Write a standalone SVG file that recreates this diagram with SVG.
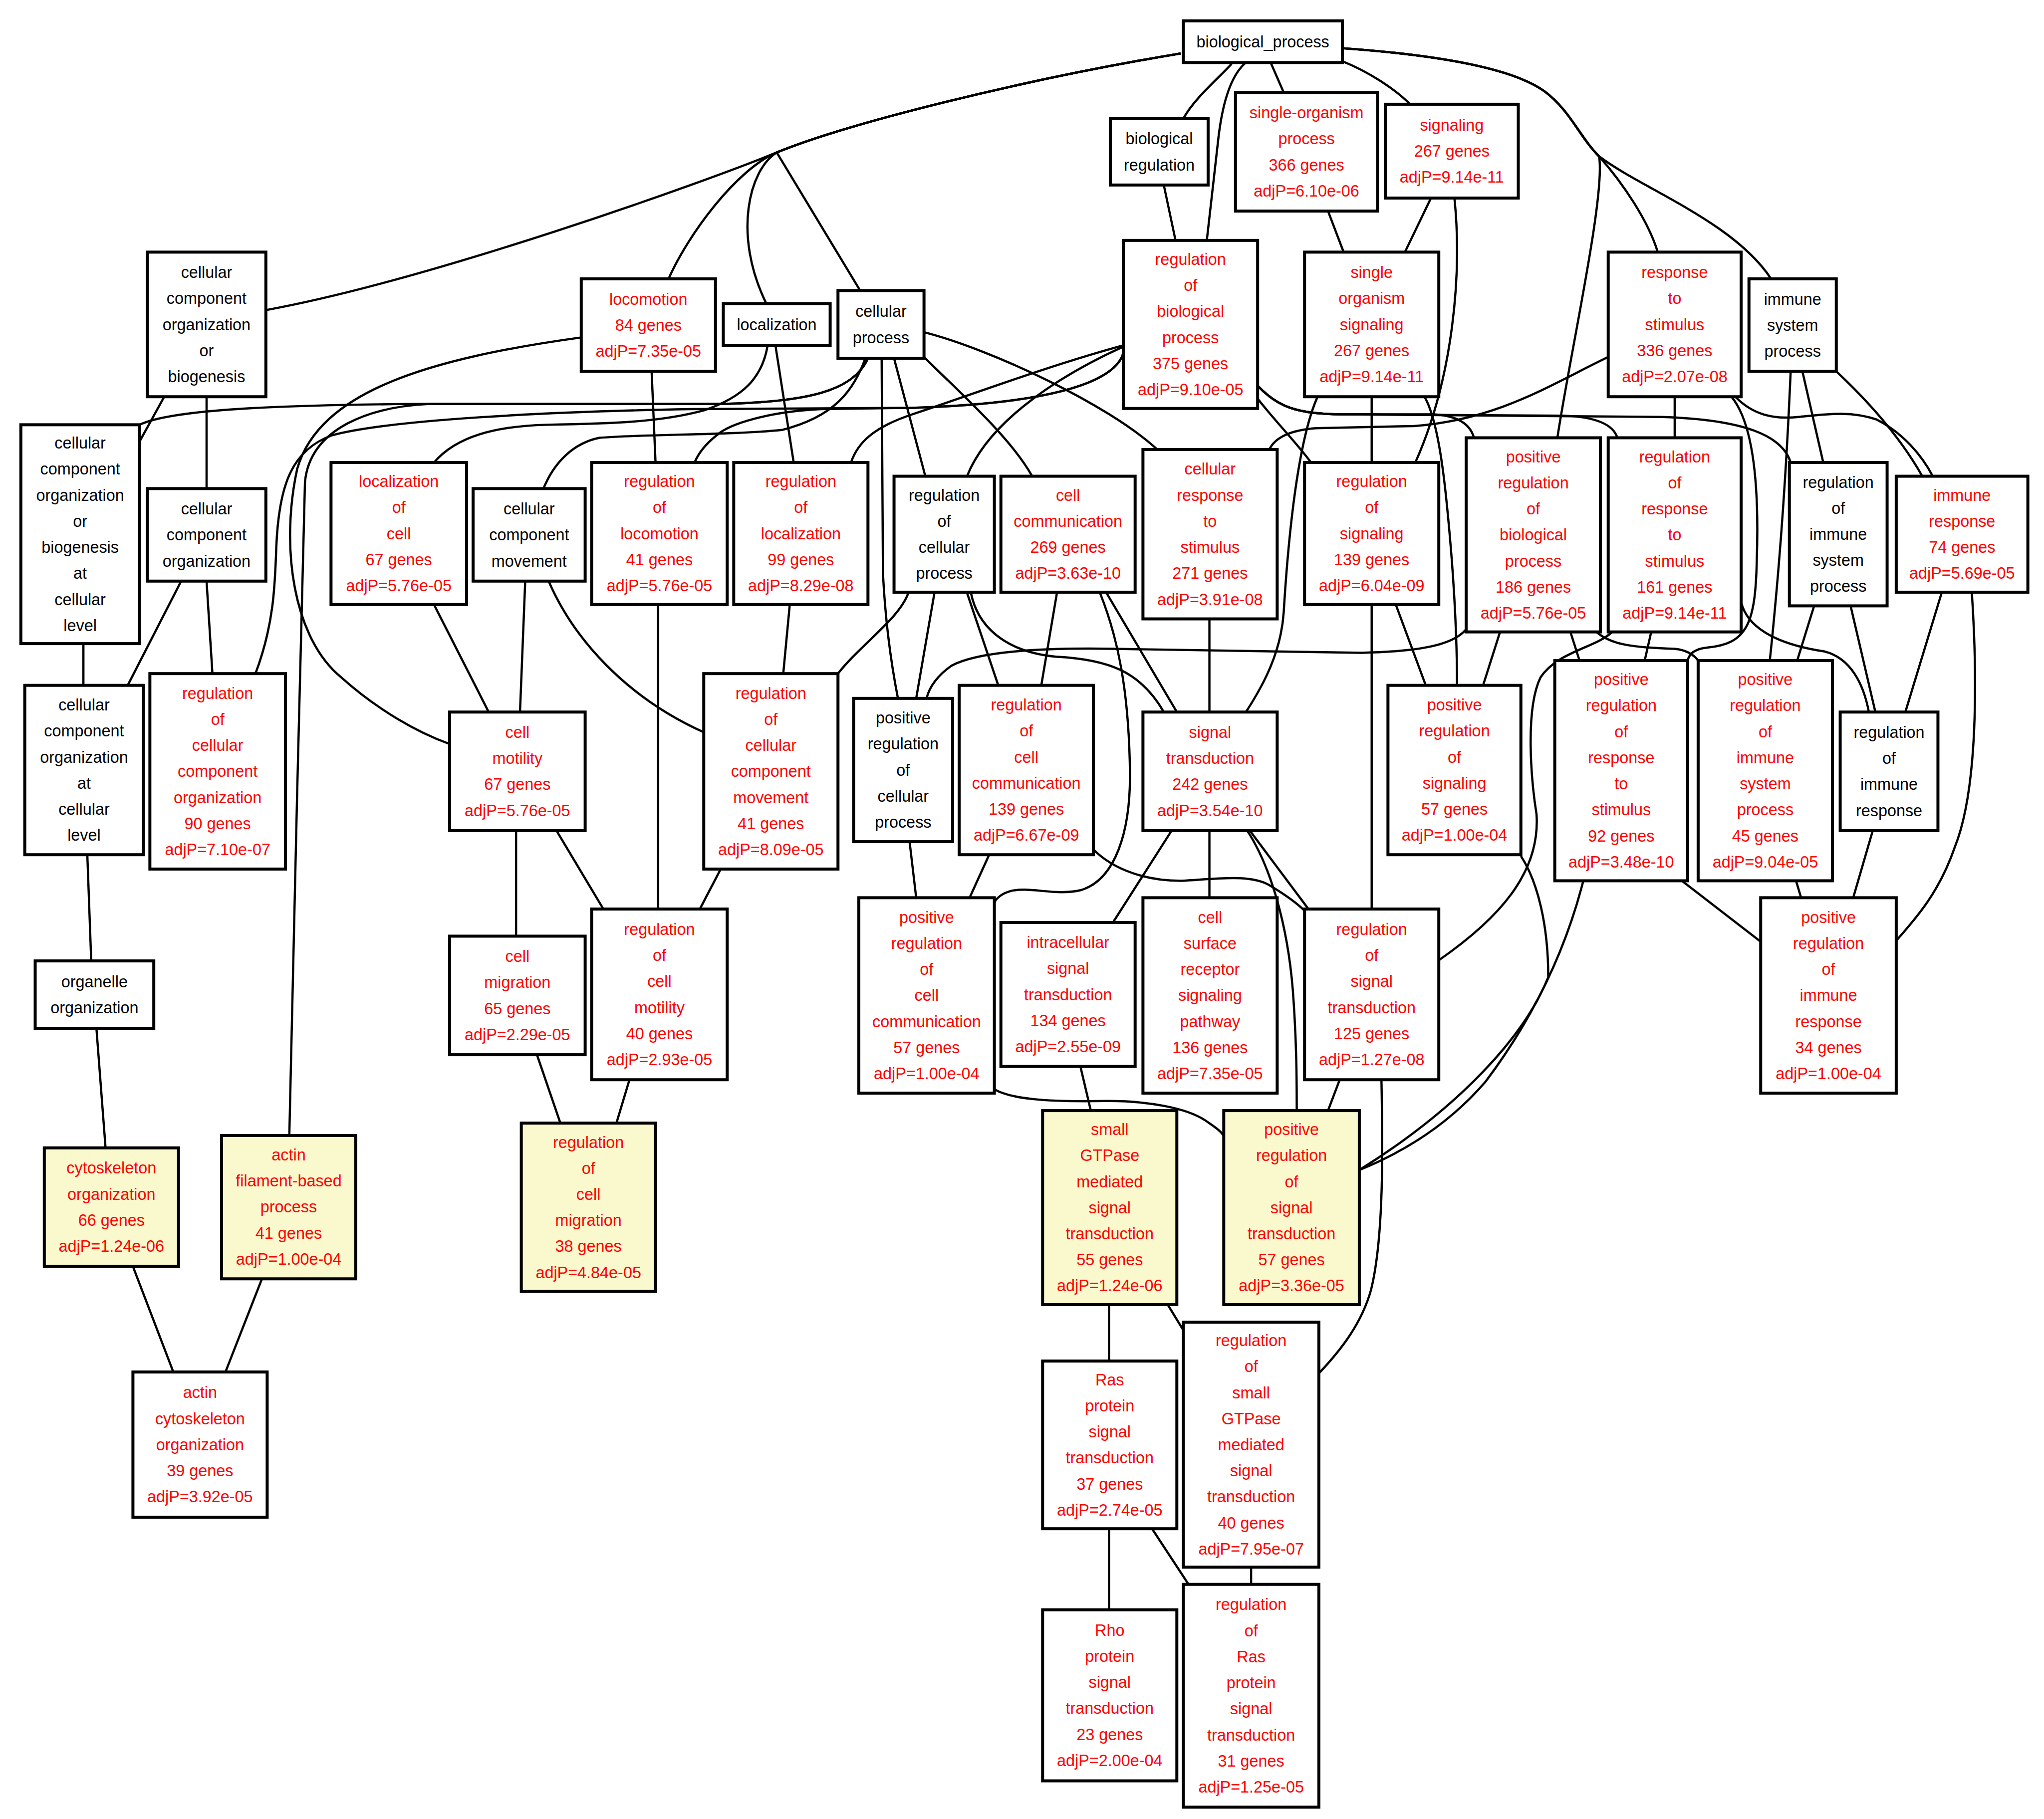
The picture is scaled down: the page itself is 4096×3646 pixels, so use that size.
<svg xmlns="http://www.w3.org/2000/svg" width="4096" height="3646" viewBox="0 0 4096 3646">
<style>
rect{fill:#ffffff;stroke:#000000;stroke-width:2.3}
rect.y{fill:#faf8cd}
text{font-family:"Liberation Sans",Arial,sans-serif;font-size:12.4px;text-anchor:middle}
.r{fill:#ff0000}
.k{fill:#000000}
#edges path{fill:none;stroke:#000000;stroke-width:1.7}
</style>
<rect x="0" y="0" width="4096" height="3646" style="fill:#ffffff;stroke:none"/>
<g transform="scale(2.6116)">
<g id="edges">
<path d="M906,41 C780,62 650,95 596,117 C540,140 330,215 204,238"/>
<path d="M906,41 C780,62 650,95 596,117 C565,130 528,180 513,214"/>
<path d="M906,41 C780,62 650,95 596,117 C575,130 562,180 588,233"/>
<path d="M906,41 C780,62 650,95 596,117 L660,223"/>
<path d="M945,49 C935,60 916,76 908,91"/>
<path d="M956,48 C944,58 938,80 935,105 L926,184.5"/>
<path d="M975,48 L985,71"/>
<path d="M1030,47 C1050,55 1070,68 1082,80"/>
<path d="M1030,37 C1100,42 1160,52 1185,70 C1205,85 1212,105 1227,120 C1232,150 1205,270 1195,336"/>
<path d="M1030,37 C1100,42 1160,52 1185,70 C1205,85 1212,105 1227,120 C1245,140 1265,170 1272,193.5"/>
<path d="M1030,37 C1100,42 1160,52 1185,70 C1205,85 1212,105 1227,120 C1260,145 1330,170 1359,214"/>
<path d="M893,142 L902,184.5"/>
<path d="M1019,162 L1031,193.5"/>
<path d="M1098,152 L1078,193.5"/>
<path d="M1116,152 C1122,210 1115,290 1086,355"/>
<path d="M126,304.5 L107,339"/>
<path d="M158.5,304.5 L158.5,375"/>
<path d="M666,275 C655,300 620,309 550,310 L320,310 C200,311 130,315 107,326"/>
<path d="M666,275 C655,300 620,309 550,310 L330,310 C285,312 238,328 234,370 C231,500 224,750 222,871.5"/>
<path d="M446,259 C330,275 245,300 228,360 C215,420 225,490 262,520 C290,545 320,562 345,571"/>
<path d="M862,271 C855,295 800,310 700,313 L530,314 C420,316 300,322 255,334 C225,345 214,370 212,420 C211,450 210,480 196,517"/>
<path d="M862,271 C855,295 800,310 700,313 L630,314 C590,316 560,325 550,334 C540,342 535,350 533,355"/>
<path d="M862,265 C800,282 740,305 700,318 C670,328 658,340 653,355"/>
<path d="M862,266 C820,285 760,320 742,365.5"/>
<path d="M664,275 C655,300 640,320 600,330 C560,334 500,333 460,336 C440,340 425,355 417,375"/>
<path d="M589,265 C585,290 570,305 540,315 C510,323 480,325 420,326 C380,327 350,335 333,355"/>
<path d="M595,265 L609,355"/>
<path d="M500,285 L503,355"/>
<path d="M676.5,275 L677.5,440 Q680,490 689,536"/>
<path d="M686,275 L710,365.5"/>
<path d="M709,274 C735,300 775,335 792,365.5"/>
<path d="M709,255 C760,268 850,310 888,345"/>
<path d="M965,306 C980,325 995,340 1006,355"/>
<path d="M965,296 C980,312 995,318 1030,318 L1100,318 C1118,319 1128,325 1131,336"/>
<path d="M965,296 C980,312 995,318 1030,318 L1200,319 C1225,320 1238,326 1241,336"/>
<path d="M965,296 C980,312 995,318 1030,318 L1275,320 C1340,322 1368,335 1374,355"/>
<path d="M1234,274 C1190,295 1150,322 1085,327 L1010,328.6 C990,330 978,336 974,345"/>
<path d="M1285,304.5 L1285,336"/>
<path d="M1329,305 C1345,325 1350,370 1348,430 C1347,480 1340,494 1310,497 C1300,498 1296,502 1295,507"/>
<path d="M1332,305 C1345,318 1360,322 1380,320 C1400,318 1420,315 1440,322 C1460,332 1475,350 1483,365.5"/>
<path d="M1383,285 L1399,355"/>
<path d="M1374,285 C1370,380 1364,450 1358,507"/>
<path d="M1409,285 C1425,300 1455,330 1475,365.5"/>
<path d="M1052.5,304.5 L1052.5,355"/>
<path d="M1011,304.5 C995,340 988,420 985,470 C983,500 970,525 956,546.5"/>
<path d="M1093,304.5 C1105,325 1110,380 1114,430 C1117,470 1118,500 1118,526"/>
<path d="M1071,464 L1094,526"/>
<path d="M1052.5,464 L1052.5,697.7"/>
<path d="M1151,485 L1138,526"/>
<path d="M1125,483 C1115,495 1090,500 1045,501 L856,498 C800,497 750,500 730,511 C720,518 713,527 711,536"/>
<path d="M1205,485 L1212,507"/>
<path d="M1225,485 C1235,494 1250,497 1285,498 C1295,499 1300,503 1303,507"/>
<path d="M1267,485 L1262,507"/>
<path d="M1237,485 C1225,497 1195,500 1182,520 C1170,545 1175,600 1179,625 C1182,670 1150,705 1104,737"/>
<path d="M1336,462 C1340,480 1360,494 1400,500 C1420,505 1430,525 1434,546.5"/>
<path d="M1392,465 L1379,507"/>
<path d="M1420,465 L1439,546.5"/>
<path d="M1490,454.5 L1462,546.5"/>
<path d="M1513,454.5 C1516,500 1520,600 1500,650 C1488,685 1470,705 1455,722"/>
<path d="M1437,637.5 L1422,689"/>
<path d="M1378,675.6 L1382,689"/>
<path d="M1290,675.6 L1351,722.7"/>
<path d="M1215,675.6 C1205,715 1185,770 1140,830 C1110,865 1075,885 1043,898"/>
<path d="M1167,657 C1180,677 1188,710 1188,750 C1170,795 1120,850 1043,898"/>
<path d="M606,464 L601,517"/>
<path d="M697,455 C690,475 660,495 643,517"/>
<path d="M717,455 L703,536"/>
<path d="M742,455 L766,526"/>
<path d="M745,455 C750,480 770,500 810,504 C850,506 875,515 893,546.5"/>
<path d="M811,455 L799,526"/>
<path d="M844,455 C858,490 866,530 867,590 C868,640 855,675 830,683 C810,688 790,680 775,684 C768,686 764,690 763,693"/>
<path d="M849,455 L903,546.5"/>
<path d="M928,475 L928,546.5"/>
<path d="M759,656 L744,689"/>
<path d="M839,652 C855,668 880,676 906,676 C930,675 960,670 975,680 C985,686 995,693 1001,699"/>
<path d="M698,646.5 L703,689"/>
<path d="M899,637.5 L854,708"/>
<path d="M928,637.5 L928,689"/>
<path d="M959,637.5 L1004,697.7"/>
<path d="M957,637.5 C975,665 988,710 992,760 C995,800 995,830 995,852.4"/>
<path d="M763,836 C775,843 800,846 850,845 C880,845 910,850 925,860 C932,865 937,868 939,872"/>
<path d="M829,818.5 L837,852.4"/>
<path d="M1028,828.6 L1019,852.4"/>
<path d="M1060,828.6 C1061,880 1062,950 1052,990 C1045,1015 1030,1035 1012,1054"/>
<path d="M851,1001.3 L851,1044.6"/>
<path d="M896,1001.3 L908,1021"/>
<path d="M851,1173.3 L851,1235.5"/>
<path d="M884,1173.3 L912,1216"/>
<path d="M960,1202.8 L960,1216"/>
<path d="M64,494 L64,526"/>
<path d="M139,446 L98,526"/>
<path d="M158.5,446 L163,517"/>
<path d="M333,464 L375,546.5"/>
<path d="M403,446 L399,546.5"/>
<path d="M421,446 C440,490 480,535 540,562"/>
<path d="M505,464 L505,697.7"/>
<path d="M396,637.5 L396,718.5"/>
<path d="M427,637.5 L463,697.7"/>
<path d="M553,667 L537,697.7"/>
<path d="M483,828.7 L473,862"/>
<path d="M412,809.5 L430,862"/>
<path d="M67,656 L70,737.5"/>
<path d="M74,789.3 L81,881"/>
<path d="M102,972 L133,1053"/>
<path d="M201,981.5 L173,1053"/>
</g>
<g id="n_bp"><rect x="908" y="16" width="122" height="32"/><text class="k" x="969" y="36.3">biological_process</text></g>
<g id="n_breg"><rect x="852" y="91" width="75" height="51"/><text class="k" x="889.5" y="110.8"><tspan x="889.5">biological</tspan><tspan x="889.5" dy="20">regulation</tspan></text></g>
<g id="n_sop"><rect x="948" y="71" width="109" height="91"/><text class="r" x="1002.5" y="90.8"><tspan x="1002.5">single-organism</tspan><tspan x="1002.5" dy="20">process</tspan><tspan x="1002.5" dy="20">366 genes</tspan><tspan x="1002.5" dy="20">adjP=6.10e-06</tspan></text></g>
<g id="n_sig"><rect x="1063" y="80" width="102" height="72"/><text class="r" x="1114" y="100.3"><tspan x="1114">signaling</tspan><tspan x="1114" dy="20">267 genes</tspan><tspan x="1114" dy="20">adjP=9.14e-11</tspan></text></g>
<g id="n_ccob"><rect x="113" y="193.5" width="91" height="111"/><text class="k" x="158.5" y="213.3"><tspan x="158.5">cellular</tspan><tspan x="158.5" dy="20">component</tspan><tspan x="158.5" dy="20">organization</tspan><tspan x="158.5" dy="20">or</tspan><tspan x="158.5" dy="20">biogenesis</tspan></text></g>
<g id="n_loco"><rect x="446" y="214" width="103" height="71"/><text class="r" x="497.5" y="233.8"><tspan x="497.5">locomotion</tspan><tspan x="497.5" dy="20">84 genes</tspan><tspan x="497.5" dy="20">adjP=7.35e-05</tspan></text></g>
<g id="n_loc"><rect x="555" y="233" width="82" height="32"/><text class="k" x="596" y="253.3">localization</text></g>
<g id="n_cp"><rect x="643" y="223" width="66" height="52"/><text class="k" x="676" y="243.3"><tspan x="676">cellular</tspan><tspan x="676" dy="20">process</tspan></text></g>
<g id="n_rbp"><rect x="862" y="184.5" width="103" height="129"/><text class="r" x="913.5" y="203.3"><tspan x="913.5">regulation</tspan><tspan x="913.5" dy="20">of</tspan><tspan x="913.5" dy="20">biological</tspan><tspan x="913.5" dy="20">process</tspan><tspan x="913.5" dy="20">375 genes</tspan><tspan x="913.5" dy="20">adjP=9.10e-05</tspan></text></g>
<g id="n_sos"><rect x="1001" y="193.5" width="103" height="111"/><text class="r" x="1052.5" y="213.3"><tspan x="1052.5">single</tspan><tspan x="1052.5" dy="20">organism</tspan><tspan x="1052.5" dy="20">signaling</tspan><tspan x="1052.5" dy="20">267 genes</tspan><tspan x="1052.5" dy="20">adjP=9.14e-11</tspan></text></g>
<g id="n_rs"><rect x="1234" y="193.5" width="102" height="111"/><text class="r" x="1285" y="213.3"><tspan x="1285">response</tspan><tspan x="1285" dy="20">to</tspan><tspan x="1285" dy="20">stimulus</tspan><tspan x="1285" dy="20">336 genes</tspan><tspan x="1285" dy="20">adjP=2.07e-08</tspan></text></g>
<g id="n_isp"><rect x="1342" y="214" width="67" height="71"/><text class="k" x="1375.5" y="233.8"><tspan x="1375.5">immune</tspan><tspan x="1375.5" dy="20">system</tspan><tspan x="1375.5" dy="20">process</tspan></text></g>
<g id="n_ccobc"><rect x="16" y="326" width="91" height="168"/><text class="k" x="61.5" y="344.3"><tspan x="61.5">cellular</tspan><tspan x="61.5" dy="20">component</tspan><tspan x="61.5" dy="20">organization</tspan><tspan x="61.5" dy="20">or</tspan><tspan x="61.5" dy="20">biogenesis</tspan><tspan x="61.5" dy="20">at</tspan><tspan x="61.5" dy="20">cellular</tspan><tspan x="61.5" dy="20">level</tspan></text></g>
<g id="n_cco"><rect x="113" y="375" width="91" height="71"/><text class="k" x="158.5" y="394.8"><tspan x="158.5">cellular</tspan><tspan x="158.5" dy="20">component</tspan><tspan x="158.5" dy="20">organization</tspan></text></g>
<g id="n_locc"><rect x="254" y="355" width="104" height="109"/><text class="r" x="306" y="373.8"><tspan x="306">localization</tspan><tspan x="306" dy="20">of</tspan><tspan x="306" dy="20">cell</tspan><tspan x="306" dy="20">67 genes</tspan><tspan x="306" dy="20">adjP=5.76e-05</tspan></text></g>
<g id="n_ccm"><rect x="363" y="375" width="86" height="71"/><text class="k" x="406" y="394.8"><tspan x="406">cellular</tspan><tspan x="406" dy="20">component</tspan><tspan x="406" dy="20">movement</tspan></text></g>
<g id="n_rloco"><rect x="454" y="355" width="104" height="109"/><text class="r" x="506" y="373.8"><tspan x="506">regulation</tspan><tspan x="506" dy="20">of</tspan><tspan x="506" dy="20">locomotion</tspan><tspan x="506" dy="20">41 genes</tspan><tspan x="506" dy="20">adjP=5.76e-05</tspan></text></g>
<g id="n_rloc"><rect x="563" y="355" width="103" height="109"/><text class="r" x="614.5" y="373.8"><tspan x="614.5">regulation</tspan><tspan x="614.5" dy="20">of</tspan><tspan x="614.5" dy="20">localization</tspan><tspan x="614.5" dy="20">99 genes</tspan><tspan x="614.5" dy="20">adjP=8.29e-08</tspan></text></g>
<g id="n_rcp"><rect x="686" y="365.5" width="77" height="89"/><text class="k" x="724.5" y="384.3"><tspan x="724.5">regulation</tspan><tspan x="724.5" dy="20">of</tspan><tspan x="724.5" dy="20">cellular</tspan><tspan x="724.5" dy="20">process</tspan></text></g>
<g id="n_cc"><rect x="768" y="365.5" width="103" height="89"/><text class="r" x="819.5" y="384.3"><tspan x="819.5">cell</tspan><tspan x="819.5" dy="20">communication</tspan><tspan x="819.5" dy="20">269 genes</tspan><tspan x="819.5" dy="20">adjP=3.63e-10</tspan></text></g>
<g id="n_crs"><rect x="877" y="345" width="103" height="130"/><text class="r" x="928.5" y="364.3"><tspan x="928.5">cellular</tspan><tspan x="928.5" dy="20">response</tspan><tspan x="928.5" dy="20">to</tspan><tspan x="928.5" dy="20">stimulus</tspan><tspan x="928.5" dy="20">271 genes</tspan><tspan x="928.5" dy="20">adjP=3.91e-08</tspan></text></g>
<g id="n_rsig"><rect x="1001" y="355" width="103" height="109"/><text class="r" x="1052.5" y="373.8"><tspan x="1052.5">regulation</tspan><tspan x="1052.5" dy="20">of</tspan><tspan x="1052.5" dy="20">signaling</tspan><tspan x="1052.5" dy="20">139 genes</tspan><tspan x="1052.5" dy="20">adjP=6.04e-09</tspan></text></g>
<g id="n_prbp"><rect x="1125" y="336" width="103" height="149"/><text class="r" x="1176.5" y="354.8"><tspan x="1176.5">positive</tspan><tspan x="1176.5" dy="20">regulation</tspan><tspan x="1176.5" dy="20">of</tspan><tspan x="1176.5" dy="20">biological</tspan><tspan x="1176.5" dy="20">process</tspan><tspan x="1176.5" dy="20">186 genes</tspan><tspan x="1176.5" dy="20">adjP=5.76e-05</tspan></text></g>
<g id="n_rrs"><rect x="1234" y="336" width="102" height="149"/><text class="r" x="1285" y="354.8"><tspan x="1285">regulation</tspan><tspan x="1285" dy="20">of</tspan><tspan x="1285" dy="20">response</tspan><tspan x="1285" dy="20">to</tspan><tspan x="1285" dy="20">stimulus</tspan><tspan x="1285" dy="20">161 genes</tspan><tspan x="1285" dy="20">adjP=9.14e-11</tspan></text></g>
<g id="n_risp"><rect x="1373" y="355" width="75" height="110"/><text class="k" x="1410.5" y="374.3"><tspan x="1410.5">regulation</tspan><tspan x="1410.5" dy="20">of</tspan><tspan x="1410.5" dy="20">immune</tspan><tspan x="1410.5" dy="20">system</tspan><tspan x="1410.5" dy="20">process</tspan></text></g>
<g id="n_ir"><rect x="1455" y="365.5" width="101" height="89"/><text class="r" x="1505.5" y="384.3"><tspan x="1505.5">immune</tspan><tspan x="1505.5" dy="20">response</tspan><tspan x="1505.5" dy="20">74 genes</tspan><tspan x="1505.5" dy="20">adjP=5.69e-05</tspan></text></g>
<g id="n_ccoc"><rect x="19" y="526" width="91" height="130"/><text class="k" x="64.5" y="545.3"><tspan x="64.5">cellular</tspan><tspan x="64.5" dy="20">component</tspan><tspan x="64.5" dy="20">organization</tspan><tspan x="64.5" dy="20">at</tspan><tspan x="64.5" dy="20">cellular</tspan><tspan x="64.5" dy="20">level</tspan></text></g>
<g id="n_rcco"><rect x="115" y="517" width="104" height="150"/><text class="r" x="167" y="536.3"><tspan x="167">regulation</tspan><tspan x="167" dy="20">of</tspan><tspan x="167" dy="20">cellular</tspan><tspan x="167" dy="20">component</tspan><tspan x="167" dy="20">organization</tspan><tspan x="167" dy="20">90 genes</tspan><tspan x="167" dy="20">adjP=7.10e-07</tspan></text></g>
<g id="n_cm"><rect x="345" y="546.5" width="104" height="91"/><text class="r" x="397" y="566.3"><tspan x="397">cell</tspan><tspan x="397" dy="20">motility</tspan><tspan x="397" dy="20">67 genes</tspan><tspan x="397" dy="20">adjP=5.76e-05</tspan></text></g>
<g id="n_rccm"><rect x="540" y="517" width="103" height="150"/><text class="r" x="591.5" y="536.3"><tspan x="591.5">regulation</tspan><tspan x="591.5" dy="20">of</tspan><tspan x="591.5" dy="20">cellular</tspan><tspan x="591.5" dy="20">component</tspan><tspan x="591.5" dy="20">movement</tspan><tspan x="591.5" dy="20">41 genes</tspan><tspan x="591.5" dy="20">adjP=8.09e-05</tspan></text></g>
<g id="n_prcp"><rect x="655" y="536" width="76" height="110"/><text class="k" x="693" y="555.3"><tspan x="693">positive</tspan><tspan x="693" dy="20">regulation</tspan><tspan x="693" dy="20">of</tspan><tspan x="693" dy="20">cellular</tspan><tspan x="693" dy="20">process</tspan></text></g>
<g id="n_rcc"><rect x="736" y="526" width="103" height="130"/><text class="r" x="787.5" y="545.3"><tspan x="787.5">regulation</tspan><tspan x="787.5" dy="20">of</tspan><tspan x="787.5" dy="20">cell</tspan><tspan x="787.5" dy="20">communication</tspan><tspan x="787.5" dy="20">139 genes</tspan><tspan x="787.5" dy="20">adjP=6.67e-09</tspan></text></g>
<g id="n_st"><rect x="877" y="546.5" width="103" height="91"/><text class="r" x="928.5" y="566.3"><tspan x="928.5">signal</tspan><tspan x="928.5" dy="20">transduction</tspan><tspan x="928.5" dy="20">242 genes</tspan><tspan x="928.5" dy="20">adjP=3.54e-10</tspan></text></g>
<g id="n_prs"><rect x="1065" y="526" width="102" height="130"/><text class="r" x="1116" y="545.3"><tspan x="1116">positive</tspan><tspan x="1116" dy="20">regulation</tspan><tspan x="1116" dy="20">of</tspan><tspan x="1116" dy="20">signaling</tspan><tspan x="1116" dy="20">57 genes</tspan><tspan x="1116" dy="20">adjP=1.00e-04</tspan></text></g>
<g id="n_prrs"><rect x="1193" y="507" width="102" height="169"/><text class="r" x="1244" y="525.8"><tspan x="1244">positive</tspan><tspan x="1244" dy="20">regulation</tspan><tspan x="1244" dy="20">of</tspan><tspan x="1244" dy="20">response</tspan><tspan x="1244" dy="20">to</tspan><tspan x="1244" dy="20">stimulus</tspan><tspan x="1244" dy="20">92 genes</tspan><tspan x="1244" dy="20">adjP=3.48e-10</tspan></text></g>
<g id="n_prisp"><rect x="1303" y="507" width="103" height="169"/><text class="r" x="1354.5" y="525.8"><tspan x="1354.5">positive</tspan><tspan x="1354.5" dy="20">regulation</tspan><tspan x="1354.5" dy="20">of</tspan><tspan x="1354.5" dy="20">immune</tspan><tspan x="1354.5" dy="20">system</tspan><tspan x="1354.5" dy="20">process</tspan><tspan x="1354.5" dy="20">45 genes</tspan><tspan x="1354.5" dy="20">adjP=9.04e-05</tspan></text></g>
<g id="n_rir"><rect x="1412" y="546.5" width="75" height="91"/><text class="k" x="1449.5" y="566.3"><tspan x="1449.5">regulation</tspan><tspan x="1449.5" dy="20">of</tspan><tspan x="1449.5" dy="20">immune</tspan><tspan x="1449.5" dy="20">response</tspan></text></g>
<g id="n_oo"><rect x="27" y="737.5" width="91" height="52"/><text class="k" x="72.5" y="757.8"><tspan x="72.5">organelle</tspan><tspan x="72.5" dy="20">organization</tspan></text></g>
<g id="n_cmig"><rect x="345" y="718.5" width="104" height="91"/><text class="r" x="397" y="738.3"><tspan x="397">cell</tspan><tspan x="397" dy="20">migration</tspan><tspan x="397" dy="20">65 genes</tspan><tspan x="397" dy="20">adjP=2.29e-05</tspan></text></g>
<g id="n_rcm"><rect x="454" y="697.7" width="104" height="131"/><text class="r" x="506" y="717.5"><tspan x="506">regulation</tspan><tspan x="506" dy="20">of</tspan><tspan x="506" dy="20">cell</tspan><tspan x="506" dy="20">motility</tspan><tspan x="506" dy="20">40 genes</tspan><tspan x="506" dy="20">adjP=2.93e-05</tspan></text></g>
<g id="n_prcc"><rect x="659" y="689" width="104" height="150"/><text class="r" x="711" y="708.3"><tspan x="711">positive</tspan><tspan x="711" dy="20">regulation</tspan><tspan x="711" dy="20">of</tspan><tspan x="711" dy="20">cell</tspan><tspan x="711" dy="20">communication</tspan><tspan x="711" dy="20">57 genes</tspan><tspan x="711" dy="20">adjP=1.00e-04</tspan></text></g>
<g id="n_ist"><rect x="768" y="708" width="103" height="110.5"/><text class="r" x="819.5" y="727.55"><tspan x="819.5">intracellular</tspan><tspan x="819.5" dy="20">signal</tspan><tspan x="819.5" dy="20">transduction</tspan><tspan x="819.5" dy="20">134 genes</tspan><tspan x="819.5" dy="20">adjP=2.55e-09</tspan></text></g>
<g id="n_csr"><rect x="877" y="689" width="103" height="150"/><text class="r" x="928.5" y="708.3"><tspan x="928.5">cell</tspan><tspan x="928.5" dy="20">surface</tspan><tspan x="928.5" dy="20">receptor</tspan><tspan x="928.5" dy="20">signaling</tspan><tspan x="928.5" dy="20">pathway</tspan><tspan x="928.5" dy="20">136 genes</tspan><tspan x="928.5" dy="20">adjP=7.35e-05</tspan></text></g>
<g id="n_rst"><rect x="1001" y="697.7" width="103" height="131"/><text class="r" x="1052.5" y="717.5"><tspan x="1052.5">regulation</tspan><tspan x="1052.5" dy="20">of</tspan><tspan x="1052.5" dy="20">signal</tspan><tspan x="1052.5" dy="20">transduction</tspan><tspan x="1052.5" dy="20">125 genes</tspan><tspan x="1052.5" dy="20">adjP=1.27e-08</tspan></text></g>
<g id="n_prir"><rect x="1351" y="689" width="104" height="150"/><text class="r" x="1403" y="708.3"><tspan x="1403">positive</tspan><tspan x="1403" dy="20">regulation</tspan><tspan x="1403" dy="20">of</tspan><tspan x="1403" dy="20">immune</tspan><tspan x="1403" dy="20">response</tspan><tspan x="1403" dy="20">34 genes</tspan><tspan x="1403" dy="20">adjP=1.00e-04</tspan></text></g>
<g id="n_co"><rect class="y" x="34" y="881" width="103" height="91"/><text class="r" x="85.5" y="900.7"><tspan x="85.5">cytoskeleton</tspan><tspan x="85.5" dy="20">organization</tspan><tspan x="85.5" dy="20">66 genes</tspan><tspan x="85.5" dy="20">adjP=1.24e-06</tspan></text></g>
<g id="n_afbp"><rect class="y" x="170" y="871.5" width="103" height="110"/><text class="r" x="221.5" y="890.65"><tspan x="221.5">actin</tspan><tspan x="221.5" dy="20">filament-based</tspan><tspan x="221.5" dy="20">process</tspan><tspan x="221.5" dy="20">41 genes</tspan><tspan x="221.5" dy="20">adjP=1.00e-04</tspan></text></g>
<g id="n_rcmig"><rect class="y" x="400" y="862" width="103" height="129.2"/><text class="r" x="451.5" y="880.9"><tspan x="451.5">regulation</tspan><tspan x="451.5" dy="20">of</tspan><tspan x="451.5" dy="20">cell</tspan><tspan x="451.5" dy="20">migration</tspan><tspan x="451.5" dy="20">38 genes</tspan><tspan x="451.5" dy="20">adjP=4.84e-05</tspan></text></g>
<g id="n_sgt"><rect class="y" x="800" y="852.4" width="103" height="148.9"/><text class="r" x="851.5" y="871.15"><tspan x="851.5">small</tspan><tspan x="851.5" dy="20">GTPase</tspan><tspan x="851.5" dy="20">mediated</tspan><tspan x="851.5" dy="20">signal</tspan><tspan x="851.5" dy="20">transduction</tspan><tspan x="851.5" dy="20">55 genes</tspan><tspan x="851.5" dy="20">adjP=1.24e-06</tspan></text></g>
<g id="n_prst"><rect class="y" x="939" y="852.4" width="104" height="148.9"/><text class="r" x="991" y="871.15"><tspan x="991">positive</tspan><tspan x="991" dy="20">regulation</tspan><tspan x="991" dy="20">of</tspan><tspan x="991" dy="20">signal</tspan><tspan x="991" dy="20">transduction</tspan><tspan x="991" dy="20">57 genes</tspan><tspan x="991" dy="20">adjP=3.36e-05</tspan></text></g>
<g id="n_aco"><rect x="102" y="1053" width="103" height="111.5"/><text class="r" x="153.5" y="1073.05"><tspan x="153.5">actin</tspan><tspan x="153.5" dy="20">cytoskeleton</tspan><tspan x="153.5" dy="20">organization</tspan><tspan x="153.5" dy="20">39 genes</tspan><tspan x="153.5" dy="20">adjP=3.92e-05</tspan></text></g>
<g id="n_ras"><rect x="800" y="1044.6" width="103" height="128.7"/><text class="r" x="851.5" y="1063.25"><tspan x="851.5">Ras</tspan><tspan x="851.5" dy="20">protein</tspan><tspan x="851.5" dy="20">signal</tspan><tspan x="851.5" dy="20">transduction</tspan><tspan x="851.5" dy="20">37 genes</tspan><tspan x="851.5" dy="20">adjP=2.74e-05</tspan></text></g>
<g id="n_rsgt"><rect x="908" y="1014.8" width="104" height="188"/><text class="r" x="960" y="1033.1"><tspan x="960">regulation</tspan><tspan x="960" dy="20">of</tspan><tspan x="960" dy="20">small</tspan><tspan x="960" dy="20">GTPase</tspan><tspan x="960" dy="20">mediated</tspan><tspan x="960" dy="20">signal</tspan><tspan x="960" dy="20">transduction</tspan><tspan x="960" dy="20">40 genes</tspan><tspan x="960" dy="20">adjP=7.95e-07</tspan></text></g>
<g id="n_rho"><rect x="800" y="1235.5" width="103" height="131.3"/><text class="r" x="851.5" y="1255.45"><tspan x="851.5">Rho</tspan><tspan x="851.5" dy="20">protein</tspan><tspan x="851.5" dy="20">signal</tspan><tspan x="851.5" dy="20">transduction</tspan><tspan x="851.5" dy="20">23 genes</tspan><tspan x="851.5" dy="20">adjP=2.00e-04</tspan></text></g>
<g id="n_rras"><rect x="908" y="1216" width="104" height="171"/><text class="r" x="960" y="1235.8"><tspan x="960">regulation</tspan><tspan x="960" dy="20">of</tspan><tspan x="960" dy="20">Ras</tspan><tspan x="960" dy="20">protein</tspan><tspan x="960" dy="20">signal</tspan><tspan x="960" dy="20">transduction</tspan><tspan x="960" dy="20">31 genes</tspan><tspan x="960" dy="20">adjP=1.25e-05</tspan></text></g>
</g>
</svg>
